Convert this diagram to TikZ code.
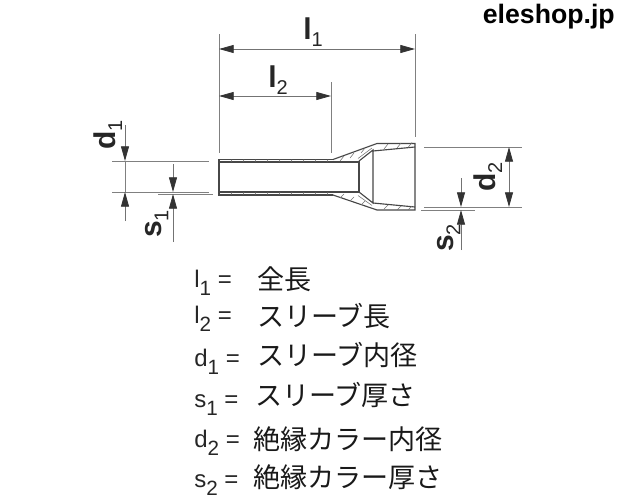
\documentclass[tikz,border=0pt]{standalone}
\usepackage{fontspec}
\setmainfont{Liberation Sans}
\newfontfamily\cjk{Noto Sans CJK JP}
\usetikzlibrary{arrows.meta}
\newcommand{\subidx}[1]{\raisebox{-0.36em}{\fontsize{15.5}{15.5}\selectfont #1}}
\newcommand{\dimidx}[1]{\raisebox{-0.22em}{\mdseries\fontsize{15}{15}\selectfont #1}}
\tikzset{
  dimline/.style={draw=black!50, line width=0.6pt},
  dimarrow/.style={draw=black!55, line width=0.6pt, -{Stealth[length=11pt, width=6pt, inset=0pt, color=black!80]}},
  dimboth/.style={draw=black!55, line width=0.6pt, {Stealth[length=11pt, width=6pt, inset=0pt, color=black!80]}-{Stealth[length=11pt, width=6pt, inset=0pt, color=black!80]}},
  wall/.style={draw=black!72, line width=0.85pt},
  hatch/.style={draw=black!55, line width=0.4pt},
  dimlabel/.style={font=\bfseries\fontsize{22.5}{23}\selectfont, text=black!85, inner sep=0pt},
  keylabel/.style={font=\fontsize{18}{18}\selectfont, text=black!85, anchor=base west, inner sep=0pt},
  keytext/.style={font=\cjk\fontsize{20.3}{21}\selectfont, text=black!90, anchor=base west, inner sep=0pt}
}
\begin{document}
\begin{tikzpicture}[x=0.75pt, y=-0.75pt]
\useasboundingbox (0,0) rectangle (620,500);

% extension lines
\draw[dimline] (219,34) -- (219,153);
\draw[dimline] (415,34) -- (415,137);
\draw[dimline] (331,82) -- (331,153);
\draw[dimline] (112,161) -- (209,161);
\draw[dimline] (112,192) -- (209,192);
\draw[dimline] (158,194) -- (213,194);
\draw[dimline] (424,147) -- (522,147);
\draw[dimline] (424,207) -- (522,207);
\draw[dimline] (421,210) -- (475,210);

% length arrows
\draw[dimboth] (219,49) -- (415,49);
\draw[dimboth] (219,96) -- (331,96);
\node[dimlabel] (lengthone) at (313,32) {l\dimidx{1}};
\node[dimlabel] (lengthtwo) at (278,80) {l\dimidx{2}};

% sleeve arrows
\draw[dimarrow] (125,125) -- (125,161);
\draw[dimarrow] (125,221) -- (125,192);
\draw[dimline] (125,161) -- (125,192);
\draw[dimarrow] (173,164) -- (173,192);
\draw[dimarrow] (173,242) -- (173,194);
\node[dimlabel, rotate=90] (sleevedia) at (108,135) {d\dimidx{1}};
\node[dimlabel, rotate=90] (sleevewall) at (157,224) {s\dimidx{1}};

% collar arrows
\draw[dimboth] (509,147) -- (509,207);
\draw[dimarrow] (461,178) -- (461,207);
\draw[dimarrow] (461,250) -- (461,210);
\node[dimlabel, rotate=90] (collardia) at (488,177) {d\dimidx{2}};
\node[dimlabel, rotate=90] (collarwall) at (449,238) {s\dimidx{2}};

% ferrule
\draw[wall] (333,159.5) -- (219,159.5) -- (219,195) -- (333,195);
\draw[wall] (219,162) -- (359,162) -- (359,192) -- (219,192);
\draw[wall] (333,159.5) -- (377,143.5) -- (415,143.5) -- (415,210) -- (377,210) -- (333,195);
\draw[wall] (359,161) -- (373,150) -- (373,203) -- (359,192);
\draw[wall] (373,151) -- (415,147);
\draw[wall] (373,203) -- (415,207);
\draw[hatch] (358,158.5) -- (372,148);
\draw[hatch] (358,195.5) -- (372,205.5);

% wall hatching
\foreach \i in {231,243,...,327} {
  \draw[hatch] (\i,162) -- (\i+1,159.5);
  \draw[hatch] (\i,195) -- (\i+1,192);
}
\foreach \i/\j in {340/158,350/155,361/150,384/146,397/145,408/144.5} {
  \draw[hatch] (\i,\j+3) -- (\i+4,\j-2);
}
\foreach \i/\j in {340/197,350/200,361/204,384/208,397/209,408/209} {
  \draw[hatch] (\i,\j+1) -- (\i+4,\j-3);
}

% key
\node[keylabel] (keylone) at (194,287) {l\subidx{1} =};
\node[keylabel] (keyltwo) at (194,323) {l\subidx{2} =};
\node[keylabel] (keydone) at (194,366) {d\subidx{1} =};
\node[keylabel] (keysone) at (194,407) {s\subidx{1} =};
\node[keylabel] (keydtwo) at (194,447) {d\subidx{2} =};
\node[keylabel] (keystwo) at (194,487) {s\subidx{2} =};
\node[keytext] (textlone) at (257,289) {全長};
\node[keytext] (textltwo) at (257,326) {スリーブ長};
\node[keytext] (textdone) at (257,365) {スリーブ内径};
\node[keytext] (textsone) at (255,405) {スリーブ厚さ};
\node[keytext] (textdtwo) at (253,449) {絶縁カラー内径};
\node[keytext] (textstwo) at (253,487) {絶縁カラー厚さ};

\node[font=\bfseries\fontsize{20}{20}\selectfont, anchor=base east, inner sep=0pt] (shopname) at (615,23) {eleshop.jp};

\end{tikzpicture}
\end{document}
